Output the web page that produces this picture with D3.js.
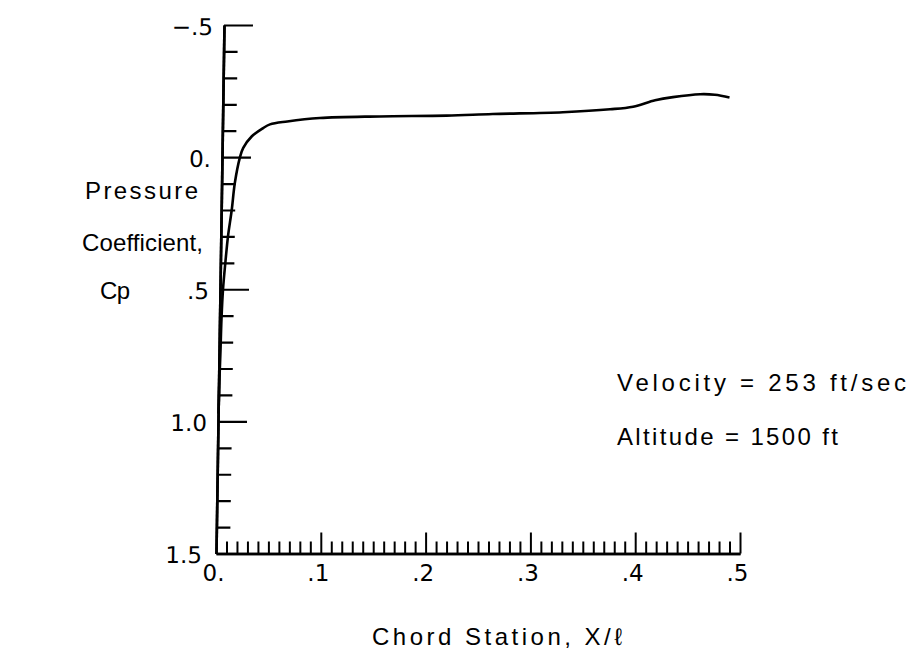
<!DOCTYPE html>
<html><head><meta charset="utf-8">
<script src="https://cdn.jsdelivr.net/npm/d3@7"></script>
<style>
body{margin:0;background:#fff;}
text{font-family:"Liberation Sans",Arial,sans-serif;fill:#000;}
</style></head>
<body>
<svg id="c" width="916" height="653"></svg>
<script>
// ---- data ----
const chordX = [0.0024,0.0033,0.0043,0.0052,0.0067,0.009,0.0115,0.015,0.018,0.0229,0.026,0.034,0.045,0.0515,0.068,0.099,0.156,0.220,0.264,0.331,0.376,0.398,0.419,0.436,0.462,0.476,0.490];
const cpVals = [0.97,0.84,0.73,0.615,0.50,0.396,0.298,0.20,0.097,0.0,-0.035,-0.078,-0.11,-0.124,-0.135,-0.148,-0.154,-0.157,-0.163,-0.170,-0.181,-0.191,-0.215,-0.227,-0.238,-0.236,-0.226];
const xMajorTicks = [0,0.1,0.2,0.3,0.4,0.5];
const xTickLabels = ["0.",".1",".2",".3",".4",".5"];
const yMajorTicks = [-0.5,0,0.5,1.0,1.5];
const yTickLabels = ["\u2212.5","0.",".5","1.0","1.5"];
const yLabelLines = ["Pressure","Coefficient,","Cp"];
const xTitle = "Chord Station, X/\u2113";
const notes = ["Velocity = 253 ft/sec","Altitude = 1500 ft"];

const svg = d3.select("#c");
const x = d3.scaleLinear().domain([0,0.5]).range([216,740]);
const y = d3.scaleLinear().domain([-0.5,1.5]).range([25,553.5]);
const x0 = x(0), yB = y(1.5);
const skew = `translate(${x0},0) translate(0,${yB}) skewX(-0.866) translate(0,${-yB})`;
const tickFont = "'DejaVu Sans',Verdana,sans-serif";

const xMinor = d3.range(0,51).map(i=>i/100).filter(v=>Math.round(v*100)%10!==0);
const yMinor = d3.range(-5,15).map(i=>i/10).filter(v=>Math.round(v*10)%5!==0);

// y axis (minor + major)
const gy = svg.append("g").attr("transform",skew);
gy.append("g").call(d3.axisRight(y).tickValues(yMinor).tickSize(14).tickSizeOuter(0).tickFormat(""));
gy.append("g").call(d3.axisRight(y).tickValues(yMajorTicks.slice(0,4)).tickSize(29).tickSizeOuter(0).tickFormat(""));
gy.selectAll("path.domain").attr("stroke","#000").attr("stroke-width",2.6);
gy.selectAll(".tick line").attr("stroke","#000").attr("stroke-width",2.2);
// y labels
const gyl = svg.append("g").attr("transform",skew);
gyl.call(d3.axisLeft(y).tickValues(yMajorTicks).tickSize(0).tickPadding(11)
  .tickFormat((d,i)=>yTickLabels[i]));
gyl.select("path.domain").remove();
gyl.selectAll(".tick text").attr("font-size",23).attr("dy","0.40em")
  .style("font-family",tickFont).attr("fill","#000");
gyl.selectAll(".tick").filter(d=>d===1.5).select("text").attr("dx",-3);

// x axis
const gx = svg.append("g").attr("transform",`translate(0,${yB})`);
gx.append("g").call(d3.axisTop(x).tickValues(xMinor).tickSize(12).tickSizeOuter(0).tickFormat(""));
gx.append("g").call(d3.axisTop(x).tickValues(xMajorTicks.slice(1)).tickSize(21).tickSizeOuter(0).tickFormat(""));
gx.selectAll("path.domain").attr("stroke","#000").attr("stroke-width",2.6);
gx.selectAll(".tick line").attr("stroke","#000").attr("stroke-width",2);
const gxl = svg.append("g").attr("transform",`translate(-3,${yB})`);
gxl.call(d3.axisBottom(x).tickValues(xMajorTicks).tickSize(0).tickPadding(11)
  .tickFormat((d,i)=>xTickLabels[i]));
gxl.select("path.domain").remove();
gxl.selectAll(".tick text").attr("font-size",23)
  .style("font-family",tickFont).attr("fill","#000");

// curve
const pts = chordX.map((v,i)=>[v,cpVals[i]]);
svg.append("path").datum(pts)
  .attr("d",d3.line().x(d=>x(d[0])).y(d=>y(d[1])).curve(d3.curveCatmullRom.alpha(0.5)))
  .attr("fill","none").attr("stroke","#000").attr("stroke-width",2.6).attr("stroke-linejoin","round");

// text labels
const lab = [
  {t:yLabelLines[0], x:85, y:199, w:113},
  {t:yLabelLines[1], x:82, y:251, w:121},
  {t:yLabelLines[2], x:100, y:299, w:30},
  {t:notes[0], x:617, y:391, w:289},
  {t:notes[1], x:617, y:445, w:221},
  {t:xTitle, x:372, y:645, w:250}
];
svg.selectAll("text.lab").data(lab).join("text").attr("class","lab")
  .attr("x",d=>d.x).attr("y",d=>d.y).attr("font-size",24)
  .attr("textLength",d=>d.w).attr("lengthAdjust","spacing")
  .text(d=>d.t);
</script>
</body></html>
